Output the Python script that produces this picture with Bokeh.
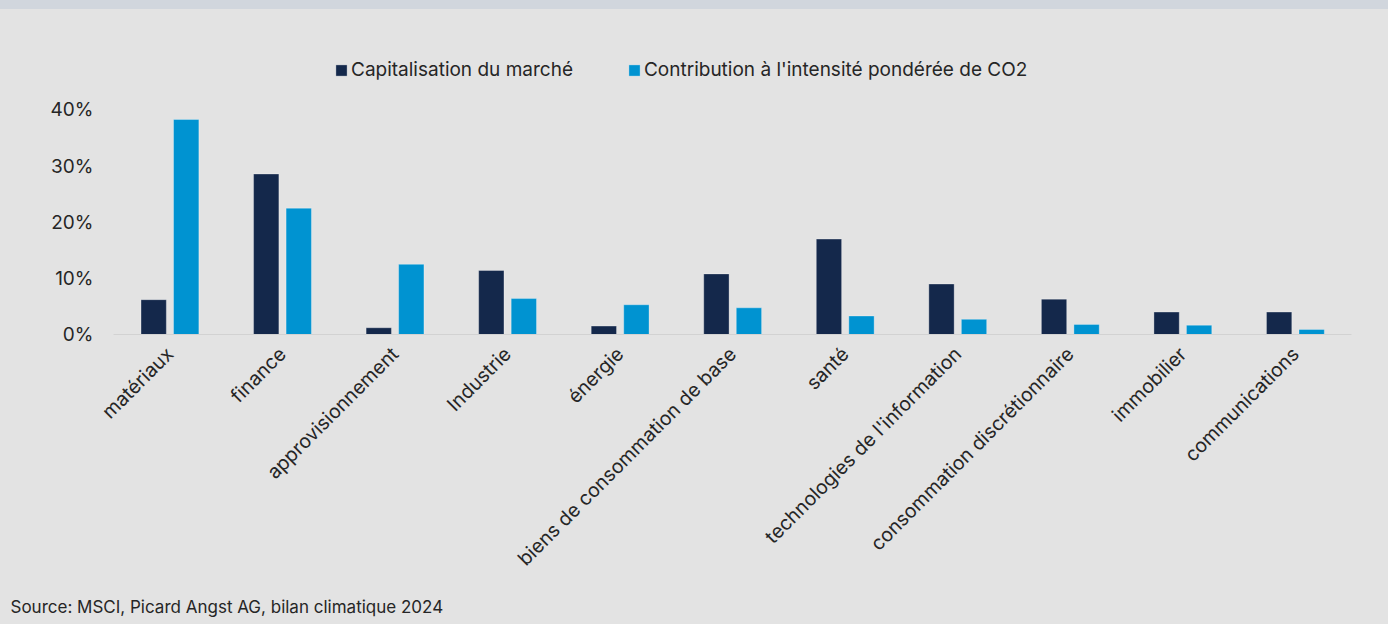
from math import pi
from bokeh.plotting import figure
from bokeh.layouts import column
from bokeh.models import (ColumnDataSource, FactorRange, Range1d, Legend, LegendItem,
                          FixedTicker, PrintfTickFormatter)
from bokeh.transform import dodge
from bokeh.embed import file_html
from bokeh.resources import INLINE

categories = ["matériaux", "finance", "approvisionnement", "Industrie", "énergie",
              "biens de consommation de base", "santé", "technologies de l'information",
              "consommation discrétionnaire", "immobilier", "communications"]
market_cap = [6.2, 28.6, 1.2, 11.4, 1.5, 10.8, 17.0, 9.0, 6.3, 4.0, 4.0]
co2_contrib = [38.3, 22.5, 12.5, 6.4, 5.3, 4.75, 3.3, 2.7, 1.8, 1.65, 0.9]
y_ticks = [0, 10, 20, 30, 40]
series_names = ["Capitalisation du marché", "Contribution à l'intensité pondérée de CO2"]
source_text = "Source: MSCI, Picard Angst AG, bilan climatique 2024"

FONT = "Inter"
BG = "#e3e3e3"
BAND = "#d1d6dd"
DARK = "#14284b"
LIGHT = "#0093d1"
TXT = "#262626"
W = 1388
LEFT = 113
RIGHT = 37


def flat_bg(fig, color):
    fig.border_fill_color = None
    fig.background_fill_color = None
    fig.outline_line_color = None
    fig.styles = {"background-color": color}


# top band
band = figure(width=W, height=9, output_backend="svg", toolbar_location=None,
              x_axis_type=None, y_axis_type=None, min_border=0,
              min_border_left=LEFT, min_border_right=RIGHT)
flat_bg(band, BAND)
band.grid.visible = False

src = ColumnDataSource(dict(cat=categories, cap=market_cap, co2=co2_contrib))

p = figure(width=W, height=585, output_backend="svg", toolbar_location=None,
           x_range=FactorRange(*categories, range_padding=0),
           y_range=Range1d(0, 52.38),
           min_border_left=LEFT, min_border_right=RIGHT, min_border_top=31, min_border_bottom=260)
flat_bg(p, BG)
p.xgrid.grid_line_color = None
p.ygrid.grid_line_color = None

r1 = p.vbar(x=dodge("cat", -0.143, range=p.x_range), top="cap", width=0.225, source=src,
            fill_color=DARK, line_color="#ffffff", line_alpha=0.3, line_width=1)
r2 = p.vbar(x=dodge("cat", 0.146, range=p.x_range), top="co2", width=0.225, source=src,
            fill_color=LIGHT, line_color="#ffffff", line_alpha=0.3, line_width=1)

# y axis
p.yaxis.ticker = FixedTicker(ticks=y_ticks)
p.yaxis.formatter = PrintfTickFormatter(format="%d%%")
p.yaxis.axis_line_color = None
p.yaxis.major_tick_line_color = None
p.yaxis.minor_tick_line_color = None
p.yaxis.major_tick_out = 0
p.yaxis.major_label_standoff = 20
p.yaxis.major_label_text_font = FONT
p.yaxis.major_label_text_font_size = "19px"
p.yaxis.major_label_text_color = TXT

# x axis
p.xaxis.axis_line_color = "#d2d2d2"
p.xaxis.axis_line_width = 1
p.xaxis.major_tick_line_color = None
p.xaxis.major_tick_out = 0
p.xaxis.major_label_standoff = 16
p.xaxis.major_label_orientation = pi / 4
p.xaxis.major_label_text_font = FONT
p.xaxis.major_label_text_font_size = "19.5px"
p.xaxis.major_label_text_color = TXT

legend = Legend(items=[LegendItem(label=series_names[0], renderers=[r1]),
                       LegendItem(label=series_names[1], renderers=[r2])],
                location=(221, 253), orientation="horizontal",
                padding=0, margin=0, spacing=54, glyph_width=14, glyph_height=14,
                label_standoff=3, label_height=20,
                label_text_font=FONT, label_text_font_size="19px", label_text_color=TXT,
                background_fill_alpha=0, border_line_alpha=0)
p.add_layout(legend)

# source line (as a left-aligned title shifted to the page edge)
foot = figure(width=W, height=30, output_backend="svg", toolbar_location=None,
              x_axis_type=None, y_axis_type=None, min_border=0,
              min_border_left=LEFT, min_border_right=RIGHT,
              title=source_text, title_location="above")
flat_bg(foot, BG)
foot.grid.visible = False
foot.title.align = "left"
foot.title.offset = 10 - LEFT
foot.title.standoff = 0
foot.title.text_font = FONT
foot.title.text_font_size = "17px"
foot.title.text_font_style = "normal"
foot.title.text_color = TXT

layout = column(band, p, foot, spacing=0)
open("out.html", "w").write(file_html(layout, INLINE))
